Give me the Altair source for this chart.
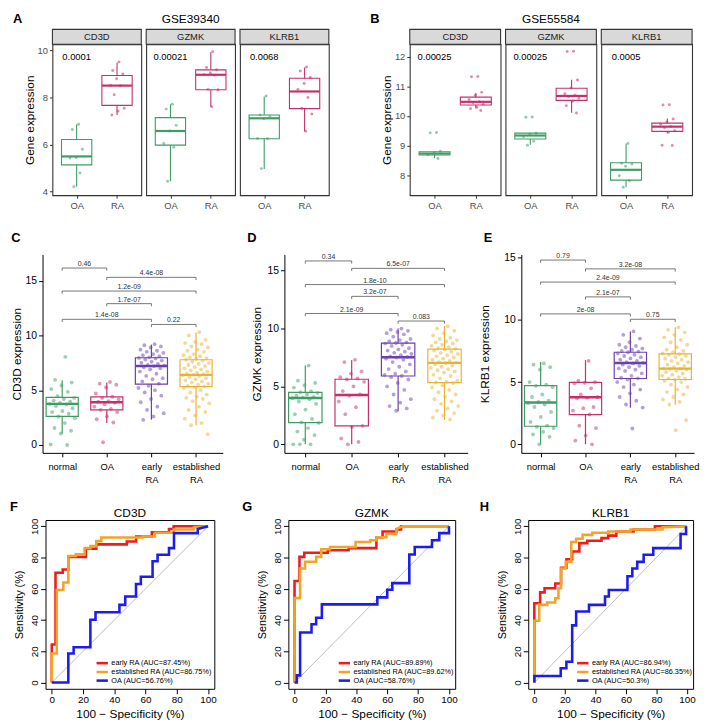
import altair as alt
import pandas as pd

FONT = "Liberation Sans"
GREEN = "#3D9D62"
MAGENTA = "#C4306C"
PURPLE = "#6B3FB0"
GOLD = "#EAB234"
RED = "#EE1C1C"
ORANGE = "#F3A428"
BLUE = "#1C1CF0"

# ---------------- Panel A : GSE39340 ----------------
A_OA_CD3D = [6.87, 6.64, 5.80, 5.45, 5.43, 4.80, 4.21]
A_RA_CD3D = [9.51, 9.15, 9.00, 8.80, 8.52, 8.50, 8.12, 7.55, 7.42, 7.26]
A_OA_GZMK = [7.72, 7.51, 6.82, 6.58, 6.05, 5.89, 4.44]
A_RA_GZMK = [9.95, 9.28, 9.18, 9.05, 8.97, 8.95, 8.35, 8.33, 7.61]
A_OA_KLRB1 = [8.07, 7.26, 7.20, 7.10, 6.26, 6.25, 4.98]
A_RA_KLRB1 = [9.30, 9.13, 8.85, 8.60, 8.35, 8.00, 7.55, 7.30, 6.57]
# box statistics: [lower whisker, Q1, median, Q3, upper whisker]
A_BOX_OA_CD3D = [4.21, 5.14, 5.50, 6.22, 6.87]
A_BOX_RA_CD3D = [7.26, 7.67, 8.51, 8.94, 9.48]
A_BOX_OA_GZMK = [4.44, 5.98, 6.58, 7.15, 7.72]
A_BOX_RA_GZMK = [7.61, 8.33, 8.97, 9.18, 9.93]
A_BOX_OA_KLRB1 = [4.97, 6.25, 7.12, 7.26, 8.05]
A_BOX_RA_KLRB1 = [6.57, 7.53, 8.26, 8.82, 9.28]
A_PVAL = ["0.0001", "0.00021", "0.0068"]

# ---------------- Panel B : GSE55584 ----------------
B_OA_CD3D = [9.44, 9.43, 8.81, 8.74, 8.70, 8.56]
B_RA_CD3D = [11.34, 11.33, 10.80, 10.70, 10.56, 10.48, 10.45, 10.40, 10.30, 10.25, 10.19]
B_OA_GZMK = [9.97, 9.96, 9.42, 9.38, 9.30, 9.15, 9.01]
B_RA_GZMK = [12.19, 12.18, 11.22, 10.95, 10.75, 10.70, 10.65, 10.60, 10.50, 10.35, 10.10]
B_OA_KLRB1 = [9.07, 8.40, 8.38, 8.30, 7.98, 7.81, 7.59]
B_RA_KLRB1 = [10.38, 10.37, 9.90, 9.80, 9.72, 9.65, 9.60, 9.50, 9.45, 9.01, 9.00]
B_BOX_OA_CD3D = [8.58, 8.68, 8.73, 8.79, 8.81]
B_BOX_RA_CD3D = [10.26, 10.37, 10.48, 10.64, 10.78]
B_BOX_OA_GZMK = [9.03, 9.22, 9.34, 9.42, 9.42]
B_BOX_RA_GZMK = [10.11, 10.53, 10.68, 10.94, 11.23]
B_BOX_OA_KLRB1 = [7.59, 7.83, 8.18, 8.42, 9.07]
B_BOX_RA_KLRB1 = [9.42, 9.48, 9.64, 9.76, 9.92]
B_PVAL = ["0.00025", "0.00025", "0.0005"]

GENES = ["CD3D", "GZMK", "KLRB1"]
GROUPS4 = ["normal", "OA", "early RA", "established RA"]

# ---------------- Panel C : CD3D ----------------
C_NORMAL = [8.05, 5.95, 5.7, 5.45, 5.1, 4.85, 4.45, 4.3, 4.2, 4.05, 3.95, 3.85, 3.75, 3.7,
            3.55, 3.35, 3.1, 3.0, 2.85, 2.6, 2.45, 2.0, 1.55, 1.3, 1.05, 0.05, 0.0]
C_OA = [5.75, 5.6, 5.5, 5.25, 4.7, 4.4, 4.3, 4.15, 4.0, 3.95, 3.85, 3.7, 3.5, 3.3, 3.2, 3.0,
        2.6, 2.35, 2.05, 0.25]
C_EARLY = [9.2, 9.1, 9.0, 8.9, 8.7, 8.6, 8.5, 8.4, 8.3, 8.2, 8.1, 8.0, 7.95, 7.9, 7.8, 7.7,
           7.6, 7.5, 7.4, 7.3, 7.25, 7.2, 7.1, 7.0, 6.9, 6.7, 6.5, 6.3, 6.1, 6.0, 5.8, 5.6,
           5.4, 5.2, 5.0, 4.8, 4.5, 4.2, 3.9, 3.5, 3.2, 2.9, 2.6, 2.3]
C_EST = [10.3, 10.0, 9.6, 9.4, 9.3, 9.2, 9.0, 8.9, 8.7, 8.6, 8.5, 8.3, 8.2, 8.1, 8.0, 7.9,
         7.85, 7.8, 7.7, 7.6, 7.5, 7.4, 7.3, 7.2, 7.1, 7.0, 6.9, 6.8, 6.7, 6.6, 6.5, 6.45,
         6.4, 6.35, 6.3, 6.2, 6.1, 6.0, 5.9, 5.8, 5.7, 5.6, 5.5, 5.4, 5.35, 5.3, 5.2, 5.0,
         4.8, 4.6, 4.4, 4.3, 4.2, 4.0, 3.8, 3.5, 3.2, 3.0, 2.7, 2.4, 2.0, 1.8, 0.99]
C_BOX_NORMAL = [1.05, 2.61, 3.75, 4.35, 5.92]
C_BOX_OA = [2.0, 3.21, 3.9, 4.39, 5.7]
C_BOX_EARLY = [2.32, 5.56, 7.21, 7.96, 9.16]
C_BOX_EST = [1.8, 5.32, 6.4, 7.78, 10.27]

# ---------------- Panel D : GZMK ----------------
D_NORMAL = [6.8, 5.5, 5.3, 5.1, 4.9, 4.6, 4.5, 4.45, 4.3, 4.2, 4.1, 4.05, 4.0, 3.9, 3.7, 3.5,
            3.0, 2.6, 2.2, 1.9, 1.85, 1.4, 1.1, 0.8, 0.4, 0.0, 0.0, 0.0]
D_OA = [7.3, 7.1, 6.3, 6.1, 5.8, 5.7, 5.6, 5.4, 5.0, 4.6, 4.3, 4.2, 3.7, 3.2, 2.6, 1.6, 1.5,
        0.5, 0.2, 0.0]
D_EARLY = [10.0, 9.9, 9.8, 9.7, 9.6, 9.5, 9.3, 9.1, 9.0, 8.9, 8.8, 8.75, 8.7, 8.6, 8.5, 8.3,
           8.2, 8.1, 8.0, 7.9, 7.8, 7.7, 7.6, 7.55, 7.5, 7.4, 7.3, 7.1, 6.9, 6.7, 6.5, 6.3,
           6.1, 6.0, 5.9, 5.8, 5.6, 5.3, 5.0, 4.7, 4.3, 3.9, 3.6, 3.3, 3.1, 2.9]
D_EST = [10.2, 10.0, 9.8, 9.6, 9.4, 9.2, 9.1, 9.0, 8.9, 8.8, 8.7, 8.6, 8.5, 8.4, 8.3, 8.25,
         8.2, 8.1, 8.0, 7.9, 7.8, 7.7, 7.6, 7.5, 7.4, 7.3, 7.2, 7.1, 7.05, 7.0, 6.9, 6.8,
         6.7, 6.6, 6.5, 6.4, 6.3, 6.2, 6.0, 5.9, 5.7, 5.5, 5.4, 5.35, 5.3, 5.1, 4.9, 4.7,
         4.5, 4.3, 4.1, 3.9, 3.7, 3.5, 3.3, 3.1, 2.9, 2.7, 2.5, 2.3, 2.15]
D_BOX_NORMAL = [0.0, 1.87, 4.0, 4.48, 6.81]
D_BOX_OA = [0.0, 1.59, 4.26, 5.62, 7.29]
D_BOX_EARLY = [2.86, 5.9, 7.52, 8.74, 10.0]
D_BOX_EST = [2.13, 5.33, 7.04, 8.23, 10.22]

# ---------------- Panel E : KLRB1 ----------------
E_NORMAL = [6.5, 6.4, 6.2, 6.0, 5.0, 4.8, 4.7, 4.6, 4.0, 3.8, 3.5, 3.4, 3.3, 3.2, 3.0, 2.6,
            2.2, 1.8, 1.5, 1.4, 1.3, 1.0, 0.8, 0.6, 0.0]
E_OA = [6.7, 5.1, 5.0, 4.95, 4.9, 4.5, 4.0, 3.8, 3.75, 3.7, 3.0, 2.9, 2.7, 2.4, 1.5, 1.3,
        0.7, 0.3, 0.0]
E_EARLY = [9.07, 8.8, 8.5, 8.2, 8.0, 7.9, 7.8, 7.7, 7.6, 7.5, 7.45, 7.4, 7.3, 7.2, 7.1, 7.0,
           6.9, 6.8, 6.7, 6.6, 6.55, 6.5, 6.4, 6.3, 6.2, 6.1, 6.0, 5.9, 5.7, 5.5, 5.35, 5.3,
           5.2, 5.0, 4.8, 4.6, 4.4, 4.1, 3.8, 3.5, 3.2, 2.95, 1.27]
E_EST = [9.4, 9.2, 9.0, 8.8, 8.6, 8.4, 8.2, 8.0, 7.8, 7.6, 7.5, 7.4, 7.3, 7.25, 7.2, 7.1,
         7.0, 6.9, 6.8, 6.7, 6.6, 6.5, 6.4, 6.3, 6.2, 6.1, 6.08, 6.05, 6.0, 5.9, 5.8, 5.7,
         5.6, 5.5, 5.4, 5.3, 5.25, 5.2, 5.1, 5.0, 4.8, 4.6, 4.4, 4.2, 4.0, 3.8, 3.6, 3.4,
         3.2, 1.93, 1.13]
E_BOX_NORMAL = [0.0, 1.45, 3.36, 4.71, 6.61]
E_BOX_OA = [0.0, 2.38, 3.78, 4.97, 6.77]
E_BOX_EARLY = [2.94, 5.29, 6.53, 7.4, 9.07]
E_BOX_EST = [3.17, 5.21, 6.08, 7.27, 9.41]

# significance brackets (group i -- group j, height, p-value)
BR_G1 = [1, 2, 1, 2, 1, 3]
BR_G2 = [2, 4, 4, 3, 3, 4]
C_BR_H = [16.15, 15.3, 14.05, 12.9, 11.47, 11.0]
C_BR_LAB = ["0.46", "4.4e-08", "1.2e-09", "1.7e-07", "1.4e-08", "0.22"]
D_BR_H = [15.84, 15.2, 13.8, 12.78, 11.3, 10.65]
D_BR_LAB = ["0.34", "6.5e-07", "1.8e-10", "3.2e-07", "2.1e-09", "0.083"]
E_BR_H = [14.81, 14.1, 13.04, 11.85, 10.48, 10.05]
E_BR_LAB = ["0.79", "3.2e-08", "2.4e-09", "2.1e-07", "2e-08", "0.75"]

# ---------------- ROC curves (100-specificity, sensitivity) ----------------
DIAG = [0, 100]
F_EARLY_X = [0, 0, 2.4, 2.4, 7, 7, 10.6, 10.6, 21.8, 21.8, 28.5, 28.5, 48, 48, 54, 54, 64, 64, 75, 75, 78, 78, 100]
F_EARLY_Y = [0, 24.3, 24.3, 70.2, 70.2, 72.3, 72.3, 80.3, 80.3, 85.6, 85.6, 88.4, 88.4, 90.3, 90.3, 93.4, 93.4, 96.2, 96.2, 98.3, 98.3, 100, 100]
F_EST_X = [0, 0, 3.2, 3.2, 7.4, 7.4, 10.6, 10.6, 15.4, 15.4, 21, 21, 24.7, 24.7, 28.5, 28.5, 31.7, 31.7, 58, 58, 66, 66, 78, 78, 91, 91, 100]
F_EST_Y = [0, 18.6, 18.6, 59.2, 59.2, 64, 64, 81, 81, 82, 82, 86, 86, 87.3, 87.3, 90.5, 90.5, 92.8, 92.8, 93.5, 93.5, 95.8, 95.8, 97.9, 97.9, 99.4, 100]
F_OA_X = [0, 10.6, 10.6, 14, 14, 24.7, 24.7, 28, 28, 43.3, 43.3, 47, 47, 53.9, 53.9, 57, 57, 64.5, 64.5, 67.7, 67.7, 75, 75, 78.2, 78.2, 93.4, 93.4, 100]
F_OA_Y = [0, 0, 18.6, 18.6, 22.6, 22.6, 40.2, 40.2, 45, 45, 49.7, 49.7, 55, 55, 63, 63, 67.7, 67.7, 77.6, 77.6, 81.8, 81.8, 86, 86, 95.6, 95.6, 98.3, 100]
G_EARLY_X = [0, 0, 3.2, 3.2, 6.3, 6.3, 21.5, 21.5, 35, 35, 53, 53, 57, 57, 66, 66, 69, 69, 100]
G_EARLY_Y = [0, 65, 65, 80.4, 80.4, 83, 83, 84.6, 84.6, 86, 86, 93, 93, 96.6, 96.6, 98, 98, 100, 100]
G_EST_X = [0, 0, 3.6, 3.6, 6.8, 6.8, 14, 14, 17.3, 17.3, 23, 23, 39.5, 39.5, 49, 49, 53, 53, 59.5, 59.5, 66, 66, 70, 100]
G_EST_Y = [0, 54, 54, 73, 73, 77.3, 77.3, 80.4, 80.4, 85.3, 85.3, 86.7, 86.7, 89.9, 89.9, 91, 91, 93, 93, 95, 95, 98.3, 100, 100]
G_OA_X = [0, 1.5, 1.5, 3.6, 3.6, 11, 11, 14, 14, 17.7, 17.7, 53.6, 53.6, 60, 60, 63.3, 63.3, 74.3, 74.3, 77.8, 77.8, 89, 89, 93.7, 93.7, 100, 100]
G_OA_Y = [0, 0, 4.6, 4.6, 32, 32, 37.3, 37.3, 41.5, 41.5, 50, 50, 54.5, 54.5, 59.4, 59.4, 63.6, 63.6, 81.9, 81.9, 86.7, 86.7, 91, 91, 95.6, 95.6, 100]
H_EARLY_X = [0, 0, 3.8, 3.8, 6.7, 6.7, 13.7, 13.7, 17.5, 17.5, 21, 21, 24.8, 24.8, 29.5, 29.5, 34.7, 34.7, 44, 44, 48.4, 48.4, 53.7, 53.7, 65, 65, 79, 79, 100]
H_EARLY_Y = [0, 50.7, 50.7, 57.7, 57.7, 60.3, 60.3, 63.4, 63.4, 73.4, 73.4, 78.9, 78.9, 83.9, 83.9, 89.2, 89.2, 90.7, 90.7, 92.4, 92.4, 94, 94, 96.6, 96.6, 97.9, 97.9, 100, 100]
H_EST_X = [0, 0, 3.2, 3.2, 8.4, 8.4, 13.7, 13.7, 15.8, 15.8, 17.5, 17.5, 20.6, 20.6, 24.2, 24.2, 27.4, 27.4, 31.6, 31.6, 38, 38, 48.4, 48.4, 63, 63, 84, 84, 100]
H_EST_Y = [0, 39.5, 39.5, 49.7, 49.7, 51.2, 51.2, 53.9, 53.9, 60.3, 60.3, 73, 73, 77.2, 77.2, 89.9, 89.9, 92, 92, 94.5, 94.5, 95.8, 95.8, 96.6, 96.6, 97.9, 97.9, 99.3, 100]
H_OA_X = [0, 0, 17.3, 17.3, 21, 21, 24.8, 24.8, 27.4, 27.4, 35.8, 35.8, 46.3, 46.3, 48.8, 48.8, 61, 61, 64.2, 64.2, 67.4, 67.4, 71.6, 71.6, 77.9, 77.9, 95.8, 95.8, 99.4, 99.4]
H_OA_Y = [0, 4.2, 4.2, 9.1, 9.1, 13.3, 13.3, 36.6, 36.6, 45.5, 45.5, 49.7, 49.7, 55, 55, 59.2, 59.2, 68, 68, 73, 73, 77.2, 77.2, 81.8, 81.8, 86, 86, 95.1, 95.1, 100]
F_AUC = ["87.45%", "86.75%", "56.76%"]
G_AUC = ["89.89%", "89.62%", "58.76%"]
H_AUC = ["86.94%", "86.35%", "50.3%"]


# ======================= helpers =======================
def jitter(half):
    return f"datum.g + ((datum.rn * 0.618034) % 1 - 0.5) * {2 * half}"


def text_layer(txt, dx, dy, size, bold=False, align="left", baseline="top"):
    return alt.Chart(pd.DataFrame({"t": [txt]})).mark_text(
        fontSize=size, font=FONT, fontWeight="bold" if bold else "normal",
        align=align, baseline=baseline, color="black"
    ).encode(x=alt.value(dx), y=alt.value(dy), text="t:N")


def spacer(w, h=1):
    # invisible layout spacer: an empty cell of exact size
    return alt.Chart(pd.DataFrame({"z": [0]})).mark_rule(strokeWidth=0, opacity=0).encode(
        x=alt.value(0), x2=alt.value(0), y=alt.value(0)).properties(
        width=w, height=h,
        view=alt.ViewBackground(stroke="transparent", strokeWidth=0, fill="white", fillOpacity=0))


def box_layers(groups, boxes, colors, X, Y, half, jit, size, opacity, lw, mw):
    gs, vs, cs = [], [], []
    for i, vals in enumerate(groups):
        gs += [i + 1] * len(vals)
        vs += list(vals)
        cs += [colors[i]] * len(vals)
    pts = pd.DataFrame({"g": gs, "v": vs, "col": cs})
    box = pd.DataFrame({
        "g": list(range(1, len(boxes) + 1)),
        "lo": [b[0] for b in boxes], "q1": [b[1] for b in boxes],
        "med": [b[2] for b in boxes], "q3": [b[3] for b in boxes],
        "hi": [b[4] for b in boxes], "col": colors[:len(boxes)],
    })
    col = alt.Color("col:N", scale=None)
    bx = alt.Chart(box).transform_calculate(xa=f"datum.g - {half}", xb=f"datum.g + {half}")
    w1 = bx.mark_rule(strokeWidth=lw).encode(x=X("g"), y=Y("lo"), y2="q1:Q", color=col)
    w2 = bx.mark_rule(strokeWidth=lw).encode(x=X("g"), y=Y("q3"), y2="hi:Q", color=col)
    rect = bx.mark_rect(fillOpacity=0, strokeWidth=lw).encode(
        x=X("xa"), x2="xb:Q", y=Y("q1"), y2="q3:Q", stroke=alt.Stroke("col:N", scale=None))
    med = bx.mark_rule(strokeWidth=mw).encode(x=X("xa"), x2="xb:Q", y=Y("med"), color=col)
    p = alt.Chart(pts).transform_window(rn="row_number()", groupby=["g"]).transform_calculate(
        xj=jitter(jit)).mark_circle(size=size, opacity=opacity).encode(
        x=X("xj"), y=Y("v"), color=col)
    return [w1, w2, rect, med, p]


# ======================= panels A / B =======================
def facet_panel(gene, oa, ra, box_oa, box_ra, pval, ydom, yvals, pty, first, W, H, extras):
    xs = alt.Scale(domain=[0.4, 2.6], nice=False, zero=False)
    ys = alt.Scale(domain=ydom, nice=False, zero=False)
    xaxis = alt.Axis(values=[1, 2], labelExpr="datum.value == 1 ? 'OA' : 'RA'", title=None,
                     grid=False, domain=False, tickColor="#333333", tickSize=3,
                     labelColor="#4D4D4D", labelFontSize=9.5, labelPadding=2, labelFlush=False,
                     labelFont=FONT)
    if first:
        yaxis = alt.Axis(values=yvals, title="Gene expression", grid=False, domain=False,
                         tickColor="#333333", tickSize=3, labelColor="#4D4D4D", labelFontSize=9.5,
                         labelPadding=2, titleFontSize=12, titleFontWeight="normal",
                         titlePadding=1, labelFlush=False, labelFont=FONT, titleFont=FONT,
                         titleColor="black")
    else:
        yaxis = None

    def X(f):
        return alt.X(f"{f}:Q", scale=xs, axis=xaxis)

    def Y(f):
        return alt.Y(f"{f}:Q", scale=ys, axis=yaxis)

    strip_df = pd.DataFrame({"s": [gene]})
    strip = alt.Chart(strip_df).mark_rect(fill="#D9D9D9", stroke="#333333", strokeWidth=1.1).encode(
        x=alt.value(0), x2=alt.value(W), y=alt.value(-15), y2=alt.value(0))
    stext = alt.Chart(strip_df).mark_text(fontSize=9.5, font=FONT, color="#1A1A1A").encode(
        x=alt.value(W / 2), y=alt.value(-7.5), text="s:N")
    ptext = alt.Chart(pd.DataFrame({"p": [pval]})).mark_text(
        fontSize=9.5, font=FONT, color="black").encode(
        x=alt.X(datum=1, scale=xs, axis=xaxis), y=alt.Y(datum=pty, scale=ys, axis=yaxis), text="p:N")
    layers = box_layers([oa, ra], [box_oa, box_ra], [GREEN, MAGENTA], X, Y,
                        0.375, 0.2, 9, 0.55, 1.1, 2.2)
    return alt.layer(strip, stext, *layers, ptext, *extras).properties(
        width=W, height=H, view=alt.ViewBackground(stroke="#333333", strokeWidth=1.1))


def geo_panels(letter, title, oa_lists, ra_lists, oa_boxes, ra_boxes, pvals, ydom, yvals, pty,
               W, H, letter_dx, letter_dy, title_dy):
    panels = []
    for i, g in enumerate(GENES):
        extras = []
        if i == 0:
            extras.append(text_layer(letter, letter_dx, letter_dy, 13, bold=True))
        if i == 1:
            extras.append(text_layer(title, W / 2, title_dy, 12, align="center", baseline="middle"))
        panels.append(facet_panel(g, oa_lists[i], ra_lists[i], oa_boxes[i], ra_boxes[i], pvals[i],
                                  ydom, yvals, pty, i == 0, W, H, extras))
    return panels


A = geo_panels("A", "GSE39340", [A_OA_CD3D, A_OA_GZMK, A_OA_KLRB1],
               [A_RA_CD3D, A_RA_GZMK, A_RA_KLRB1],
               [A_BOX_OA_CD3D, A_BOX_OA_GZMK, A_BOX_OA_KLRB1],
               [A_BOX_RA_CD3D, A_BOX_RA_GZMK, A_BOX_RA_KLRB1],
               A_PVAL, [3.85, 10.27], [4, 6, 8, 10], 9.73, 90, 153, -40, -31, -25)
B = geo_panels("B", "GSE55584", [B_OA_CD3D, B_OA_GZMK, B_OA_KLRB1],
               [B_RA_CD3D, B_RA_GZMK, B_RA_KLRB1],
               [B_BOX_OA_CD3D, B_BOX_OA_GZMK, B_BOX_OA_KLRB1],
               [B_BOX_RA_CD3D, B_BOX_RA_GZMK, B_BOX_RA_KLRB1],
               B_PVAL, [7.32, 12.43], [8, 9, 10, 11, 12], 12.0, 92, 153, -40, -31, -25)

# ======================= panels C / D / E =======================
LAB4 = ("datum.value == 1 ? 'normal' : datum.value == 2 ? 'OA' : "
        "datum.value == 3 ? ['early', 'RA'] : ['established', 'RA']")


def expr_panel(letter, ylab, groups, boxes, br_h, br_lab, ydom, xdom, W, H, ldx, ldy, tpad):
    xs = alt.Scale(domain=xdom, nice=False, zero=False)
    ys = alt.Scale(domain=ydom, nice=False, zero=False)
    xaxis = alt.Axis(values=[1, 2, 3, 4], labelExpr=LAB4, title=None, grid=False,
                     domainColor="black", tickColor="black", tickSize=4, labelColor="black",
                     labelFontSize=9.5, labelPadding=5, labelLineHeight=13, labelFlush=False,
                     labelFont=FONT)
    yaxis = alt.Axis(values=[0, 5, 10, 15], title=ylab, grid=False, domainColor="black",
                     tickColor="black", tickSize=4, labelColor="black", labelFontSize=10.5,
                     labelPadding=2, titleFontSize=12, titleFontWeight="normal",
                     titlePadding=tpad, labelFlush=False, labelFont=FONT, titleFont=FONT,
                     titleColor="black")

    def X(f):
        return alt.X(f"{f}:Q", scale=xs, axis=xaxis)

    def Y(f):
        return alt.Y(f"{f}:Q", scale=ys, axis=yaxis)

    br = pd.DataFrame({"g1": BR_G1, "g2": BR_G2, "h": br_h, "lab": br_lab})
    br["mid"] = (br["g1"] + br["g2"]) / 2
    bc = alt.Chart(br)
    hl = bc.mark_rule(color="#555555", strokeWidth=0.8).encode(x=X("g1"), x2="g2:Q", y=Y("h"))
    lt = bc.mark_rule(color="#555555", strokeWidth=0.8, y2Offset=2.7).encode(
        x=X("g1"), y=Y("h"), y2="h:Q")
    rt = bc.mark_rule(color="#555555", strokeWidth=0.8, y2Offset=2.7).encode(
        x=X("g2"), y=Y("h"), y2="h:Q")
    bt = bc.mark_text(fontSize=7, font=FONT, color="#333333", baseline="bottom", dy=-1).encode(
        x=X("mid"), y=Y("h"), text="lab:N")
    layers = box_layers(groups, boxes, [GREEN, MAGENTA, PURPLE, GOLD], X, Y,
                        0.36, 0.3, 15, 0.5, 1.2, 2.4)
    let = text_layer(letter, ldx, ldy, 13, bold=True)
    return alt.layer(hl, lt, rt, bt, *layers, let).properties(width=W, height=H)


C = expr_panel("C", "CD3D expression", [C_NORMAL, C_OA, C_EARLY, C_EST],
               [C_BOX_NORMAL, C_BOX_OA, C_BOX_EARLY, C_BOX_EST], C_BR_H, C_BR_LAB,
               [-0.72, 17.39], [0.56, 4.6], 182.6, 201, -31.7, -22.5, 2)
D = expr_panel("D", "GZMK expression", [D_NORMAL, D_OA, D_EARLY, D_EST],
               [D_BOX_NORMAL, D_BOX_OA, D_BOX_EARLY, D_BOX_EST], D_BR_H, D_BR_LAB,
               [-0.74, 16.4], [0.55, 4.5], 185.7, 201, -37.7, -22.5, 4)
E = expr_panel("E", "KLRB1 expression", [E_NORMAL, E_OA, E_EARLY, E_EST],
               [E_BOX_NORMAL, E_BOX_OA, E_BOX_EARLY, E_BOX_EST], E_BR_H, E_BR_LAB,
               [-0.69, 15.26], [0.57, 4.42], 175, 201, -38, -22.5, 13)


# ======================= panels F / G / H =======================
LEG_ROWS = [145, 154, 162.7]   # legend row positions inside the ROC box (px from top)


def roc_panel(title, letter, series, W, H, ldx, ldy, leg_text_x):
    xs = alt.Scale(domain=[-4, 104], nice=False, zero=False)
    ys = alt.Scale(domain=[-4, 104], nice=False, zero=False)
    ticks = [0, 20, 40, 60, 80, 100]
    xaxis = alt.Axis(values=ticks, title="100 \u2212 Specificity (%)", grid=False, domain=False,
                     tickColor="black", tickSize=5, labelFontSize=10, labelColor="black",
                     labelPadding=1, titleFontSize=12, titleFontWeight="normal", titlePadding=4,
                     labelFlush=False, labelFont=FONT, titleFont=FONT, titleColor="black")
    yaxis = alt.Axis(values=ticks, title="Sensitivity (%)", grid=False, domain=False,
                     tickColor="black", tickSize=5, labelFontSize=10, labelColor="black",
                     labelPadding=1, labelAngle=-90, labelAlign="center", labelBaseline="bottom",
                     titleFontSize=11, titleFontWeight="normal", titlePadding=5,
                     labelFlush=False, labelFont=FONT, titleFont=FONT, titleColor="black")

    def X(f):
        return alt.X(f"{f}:Q", scale=xs, axis=xaxis)

    def Y(f):
        return alt.Y(f"{f}:Q", scale=ys, axis=yaxis)

    diag = alt.Chart(pd.DataFrame({"x": DIAG, "y": DIAG})).mark_line(
        color="#BDBDBD", strokeWidth=1).encode(x=X("x"), y=Y("y"))
    layers = [diag]
    for name, xv, yv, c in series:
        df = pd.DataFrame({"x": xv, "y": yv, "o": list(range(len(xv)))})
        layers.append(alt.Chart(df).mark_line(strokeWidth=2.6, color=c).encode(
            x=X("x"), y=Y("y"), order="o:Q"))
    # legend (line swatch + label per series)
    for (name, _, _, c), ry in zip(series, LEG_ROWS):
        ldf = pd.DataFrame({"lab": [name]})
        layers.append(alt.Chart(ldf).mark_rule(strokeWidth=2.6, color=c).encode(
            x=alt.value(leg_text_x - 15), x2=alt.value(leg_text_x - 3.5), y=alt.value(ry)))
        layers.append(alt.Chart(ldf).mark_text(fontSize=7.4, font=FONT, color="black",
                                               align="left", baseline="middle").encode(
            x=alt.value(leg_text_x), y=alt.value(ry), text="lab:N"))
    layers.append(text_layer(letter, ldx, ldy, 13, bold=True))
    layers.append(text_layer(title, W / 2, -7.5, 12, align="center", baseline="middle"))
    return alt.layer(*layers).properties(
        width=W, height=H, view=alt.ViewBackground(stroke="black", strokeWidth=1))


def series(aucs, ex, ey, sx, sy, ox, oy):
    return [(f"early RA (AUC={aucs[0]})", ex, ey, RED),
            (f"established RA (AUC={aucs[1]})", sx, sy, ORANGE),
            (f"OA (AUC={aucs[2]})", ox, oy, BLUE)]


F = roc_panel("CD3D", "F", series(F_AUC, F_EARLY_X, F_EARLY_Y, F_EST_X, F_EST_Y, F_OA_X, F_OA_Y),
              171, 171, -36, -19.5, 66.7)
G = roc_panel("GZMK", "G", series(G_AUC, G_EARLY_X, G_EARLY_Y, G_EST_X, G_EST_Y, G_OA_X, G_OA_Y),
              169, 171, -46.6, -19.5, 66.0)
Hh = roc_panel("KLRB1", "H", series(H_AUC, H_EARLY_X, H_EARLY_Y, H_EST_X, H_EST_Y, H_OA_X, H_OA_Y),
               167, 171, -49, -19.5, 64.5)

# ======================= layout (flat rows with exact spacers) =======================
row1 = alt.hconcat(spacer(4), A[0], spacer(1), A[1], spacer(1), A[2], spacer(38.25),
                   B[0], spacer(1), B[1], spacer(1), B[2], spacing=0)
row2 = alt.hconcat(spacer(1), C, spacer(21.2), D, spacer(7.4), E, spacing=0)
row3 = alt.hconcat(spacer(1), F, spacer(23.7), G, spacer(20.6), Hh, spacing=0)

chart = alt.vconcat(row1, spacer(1, 20.5), row2, spacer(1, 16), row3, spacing=0).properties(
    padding=0, background="white").configure(font=FONT).configure_view(stroke="transparent")

chart.save("out.html", embed_options={"renderer": "svg", "actions": False})
